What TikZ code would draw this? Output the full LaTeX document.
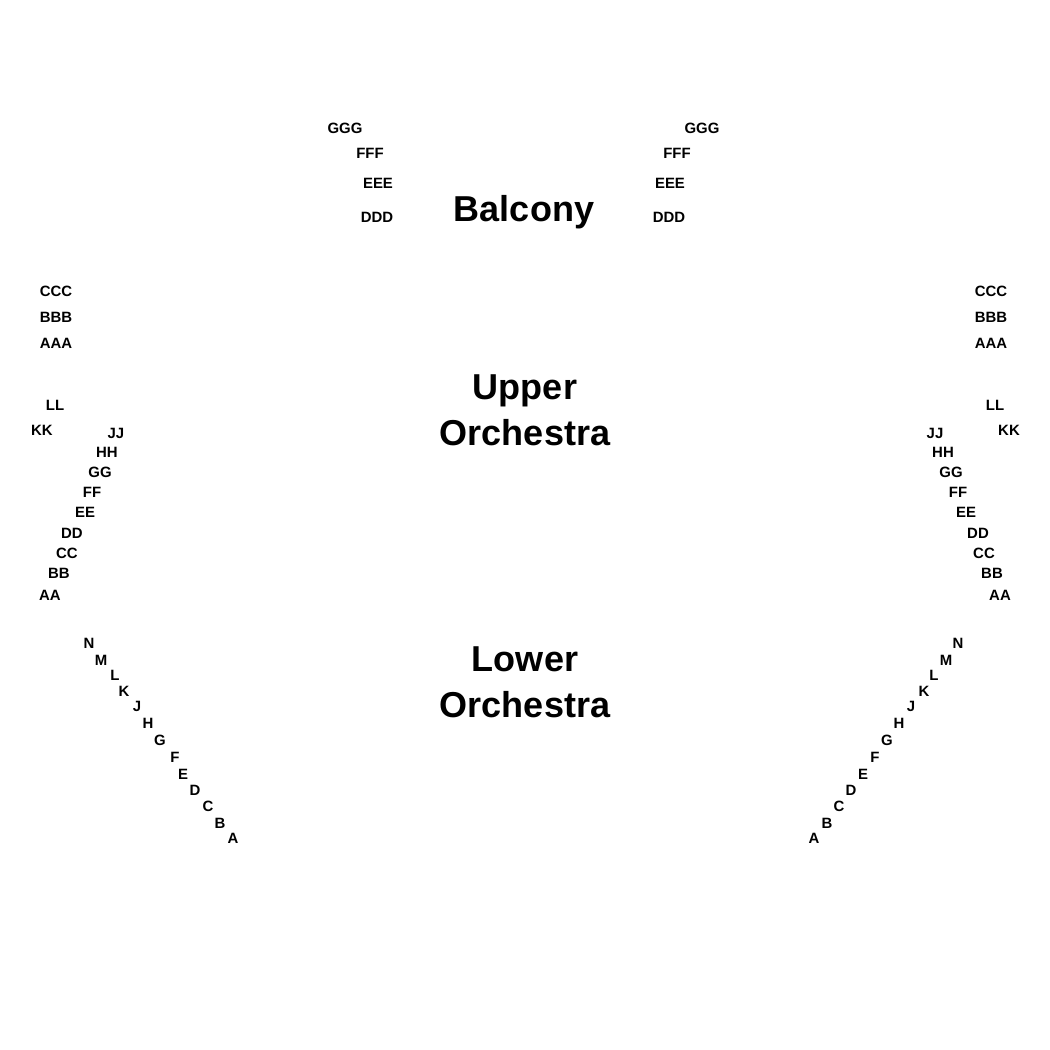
\documentclass[tikz,border=0pt]{standalone}
\usepackage{fontspec}
\setmainfont{Liberation Sans}
\begin{document}
\begin{tikzpicture}[
  x=0.02cm, y=-0.02cm,
  row/.style={font=\fontsize{8.5}{10}\selectfont\bfseries, inner sep=0pt},
  sect/.style={font=\fontsize{20.5}{24}\selectfont\bfseries, align=center, inner sep=0pt}
]
\useasboundingbox (0,0) rectangle (1050,1050);

% Balcony
\node[sect] (balcony) at (524,212) {Balcony};
\foreach \r/\xl/\xr/\y in {GGG/345/702/128, FFF/370/677/153, EEE/378/670/183, DDD/377/669/217}{
  \node[row] (bl\r) at (\xl,\y) {\r};
  \node[row] (br\r) at (\xr,\y) {\r};
}

% Upper orchestra
\node[sect] (upper) at (525,410) {Upper\\[2pt]Orchestra};
\foreach \r/\xl/\xr/\y in {CCC/56/991/291, BBB/56/991/317, AAA/56/991/343,
  LL/55/995/405, KK/42/1009/430, JJ/116/935/433, HH/107/943/452, GG/100/951/472,
  FF/92/958/492, EE/85/966/512, DD/72/978/533, CC/67/984/553, BB/59/992/573, AA/50/1000/595}{
  \node[row] (ul\r) at (\xl,\y) {\r};
  \node[row] (ur\r) at (\xr,\y) {\r};
}

% Lower orchestra
\node[sect] (lower) at (525,682) {Lower\\[2pt]Orchestra};
\foreach \r/\xl/\xr/\y in {N/89/958/643, M/101/946/660, L/115/934/675, K/124/924/691,
  J/137/911/706, H/148/899/723, G/160/887/740, F/175/875/757, E/183/863/774,
  D/195/851/790, C/208/839/806, B/220/827/823, A/233/814/838}{
  \node[row] (ll\r) at (\xl,\y) {\r};
  \node[row] (lr\r) at (\xr,\y) {\r};
}
\end{tikzpicture}
\end{document}
